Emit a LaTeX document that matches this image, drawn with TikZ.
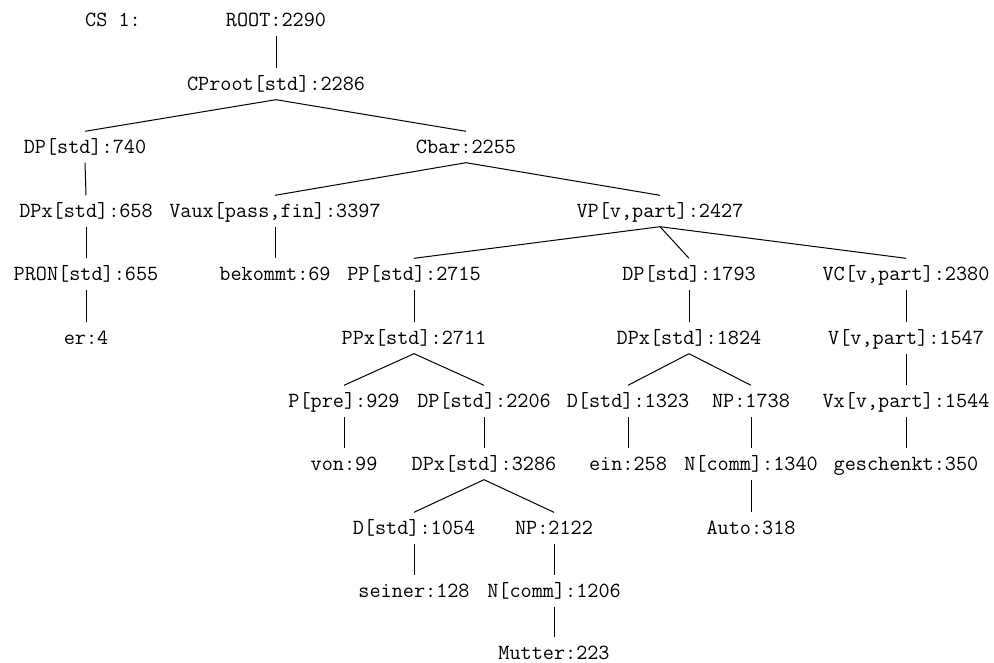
\documentclass[tikz,border=0pt]{standalone}
\begin{document}
\begin{tikzpicture}[x=1pt,y=-1pt,
  lbl/.style={inner sep=0pt, minimum height=31pt, text height=13pt, text depth=0pt,
    font=\ttfamily\fontsize{21.6}{23}\selectfont},
  edge/.style={line width=1pt}]
\useasboundingbox (0,0) rectangle (994,663);
\node[lbl] (cs) at (113,20) {CS 1:};
\node[lbl] (root) at (276,20) {ROOT:2290};
\node[lbl] (cproot) at (276,84) {CProot[std]:2286};
\node[lbl] (dp1) at (85,147) {DP[std]:740};
\node[lbl] (cbar) at (466,147) {Cbar:2255};
\node[lbl] (dpx1) at (86,211) {DPx[std]:658};
\node[lbl] (vaux) at (275,211) {Vaux[pass,fin]:3397};
\node[lbl] (vp) at (660,211) {VP[v,part]:2427};
\node[lbl] (pron) at (86,274) {PRON[std]:655};
\node[lbl] (bek) at (275,274) {bekommt:69};
\node[lbl] (pp) at (414,274) {PP[std]:2715};
\node[lbl] (dp2) at (689,274) {DP[std]:1793};
\node[lbl] (vc) at (906,274) {VC[v,part]:2380};
\node[lbl] (er) at (86,338) {er:4};
\node[lbl] (ppx) at (414,338) {PPx[std]:2711};
\node[lbl] (dpx2) at (689,338) {DPx[std]:1824};
\node[lbl] (v) at (906,338) {V[v,part]:1547};
\node[lbl] (p) at (344,401) {P[pre]:929};
\node[lbl] (dp3) at (484,401) {DP[std]:2206};
\node[lbl] (d1) at (628,401) {D[std]:1323};
\node[lbl] (np1) at (751,401) {NP:1738};
\node[lbl] (vx) at (906,401) {Vx[v,part]:1544};
\node[lbl] (von) at (344,464) {von:99};
\node[lbl] (dpx3) at (484,464) {DPx[std]:3286};
\node[lbl] (ein) at (628,464) {ein:258};
\node[lbl] (ncomm1) at (751,464) {N[comm]:1340};
\node[lbl] (gesch) at (906,464) {geschenkt:350};
\node[lbl] (d2) at (414,528) {D[std]:1054};
\node[lbl] (np2) at (554,528) {NP:2122};
\node[lbl] (auto) at (751,528) {Auto:318};
\node[lbl] (seiner) at (414,591) {seiner:128};
\node[lbl] (ncomm2) at (554,591) {N[comm]:1206};
\node[lbl] (mutter) at (554,653) {Mutter:223};
\draw[edge] (root.south) -- (cproot.north);
\draw[edge] (cproot.south) -- (dp1.north);
\draw[edge] (cproot.south) -- (cbar.north);
\draw[edge] (dp1.south) -- (dpx1.north);
\draw[edge] (dpx1.south) -- (pron.north);
\draw[edge] (pron.south) -- (er.north);
\draw[edge] (cbar.south) -- (vaux.north);
\draw[edge] (cbar.south) -- (vp.north);
\draw[edge] (vaux.south) -- (bek.north);
\draw[edge] (vp.south) -- (pp.north);
\draw[edge] (vp.south) -- (dp2.north);
\draw[edge] (vp.south) -- (vc.north);
\draw[edge] (pp.south) -- (ppx.north);
\draw[edge] (ppx.south) -- (p.north);
\draw[edge] (ppx.south) -- (dp3.north);
\draw[edge] (p.south) -- (von.north);
\draw[edge] (dp3.south) -- (dpx3.north);
\draw[edge] (dpx3.south) -- (d2.north);
\draw[edge] (dpx3.south) -- (np2.north);
\draw[edge] (d2.south) -- (seiner.north);
\draw[edge] (np2.south) -- (ncomm2.north);
\draw[edge] (ncomm2.south) -- (mutter.north);
\draw[edge] (dp2.south) -- (dpx2.north);
\draw[edge] (dpx2.south) -- (d1.north);
\draw[edge] (dpx2.south) -- (np1.north);
\draw[edge] (d1.south) -- (ein.north);
\draw[edge] (np1.south) -- (ncomm1.north);
\draw[edge] (ncomm1.south) -- (auto.north);
\draw[edge] (vc.south) -- (v.north);
\draw[edge] (v.south) -- (vx.north);
\draw[edge] (vx.south) -- (gesch.north);
\end{tikzpicture}
\end{document}
